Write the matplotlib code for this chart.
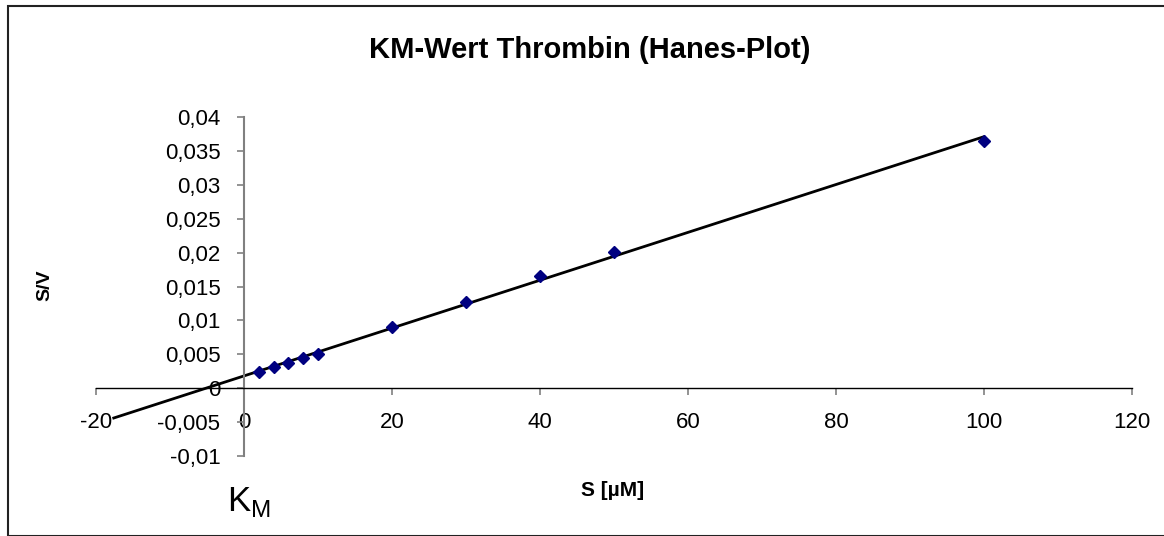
import numpy as np
import matplotlib
matplotlib.use("Agg")
import matplotlib.pyplot as plt
from matplotlib.ticker import FuncFormatter, MultipleLocator
from matplotlib.patches import Rectangle

plt.rcParams['font.family'] = ['Liberation Sans', 'DejaVu Sans']

# substrate concentration S [µM] and S/V
s_values = [2, 4, 6, 8, 10, 20, 30, 40, 50, 100]
sv_values = [0.00235, 0.0031, 0.0037, 0.0044, 0.0050, 0.0091, 0.01265, 0.0165, 0.0201, 0.0365]
trend_back = 17.6  # trendline backward forecast

title = 'KM-Wert Thrombin (Hanes-Plot)'
xlabel = 'S [µM]'
ylabel = 'S/V'

fig = plt.figure(figsize=(11.64, 5.36), dpi=100)
fig.patches.append(Rectangle((8 / 1164, 0), 1.2, 1 - 6 / 536, transform=fig.transFigure,
                             fill=False, edgecolor='#222222', linewidth=1.5))

ax = fig.add_axes([96 / 1164, 1 - 456 / 536, (1132 - 96) / 1164, (456 - 117) / 536])

# linear trendline
slope, icpt = np.polyfit(s_values, sv_values, 1)
tx = np.array([-trend_back, max(s_values)])
ax.plot(tx, slope * tx + icpt, color='black', linewidth=2.0, zorder=2)
ax.plot(s_values, sv_values, linestyle='none', marker='D', markersize=6,
        color='#000080', zorder=3)

ax.set_xlim(-20, 120)
ax.set_ylim(-0.01, 0.04)
ax.xaxis.set_major_locator(MultipleLocator(20))
ax.yaxis.set_major_locator(MultipleLocator(0.005))

def comma(v, pos):
    return ('%g' % round(v, 4)).replace('.', ',')

ax.xaxis.set_major_formatter(FuncFormatter(comma))
ax.yaxis.set_major_formatter(FuncFormatter(comma))

for side in ['top', 'right']:
    ax.spines[side].set_visible(False)
ax.spines['left'].set_position(('data', 0))
ax.spines['bottom'].set_position(('data', 0))
ax.spines['left'].set_color('#808080')
ax.spines['left'].set_linewidth(1.5)
ax.spines['bottom'].set_color('black')
ax.spines['bottom'].set_linewidth(1.0)
ax.tick_params(axis='both', direction='out', length=5, width=1.2, color='#808080',
               labelsize=16, labelcolor='black')
ax.tick_params(axis='x', pad=12)
ax.tick_params(axis='y', pad=12)

fig.text(590 / 1164, 1 - 50 / 536, title, ha='center', va='center',
         fontsize=21, fontweight='bold')
fig.text(45 / 1164, 1 - 285 / 536, ylabel, ha='center', va='center',
         rotation=90, fontsize=14, fontweight='bold')
fig.text(613 / 1164, 1 - 490 / 536, xlabel, ha='center', va='center',
         fontsize=15, fontweight='bold')
fig.text(227 / 1164, 1 - 511 / 536, r'K$_\mathregular{M}$', ha='left', va='baseline',
         fontsize=25)

fig.savefig('out.png', dpi=100)
